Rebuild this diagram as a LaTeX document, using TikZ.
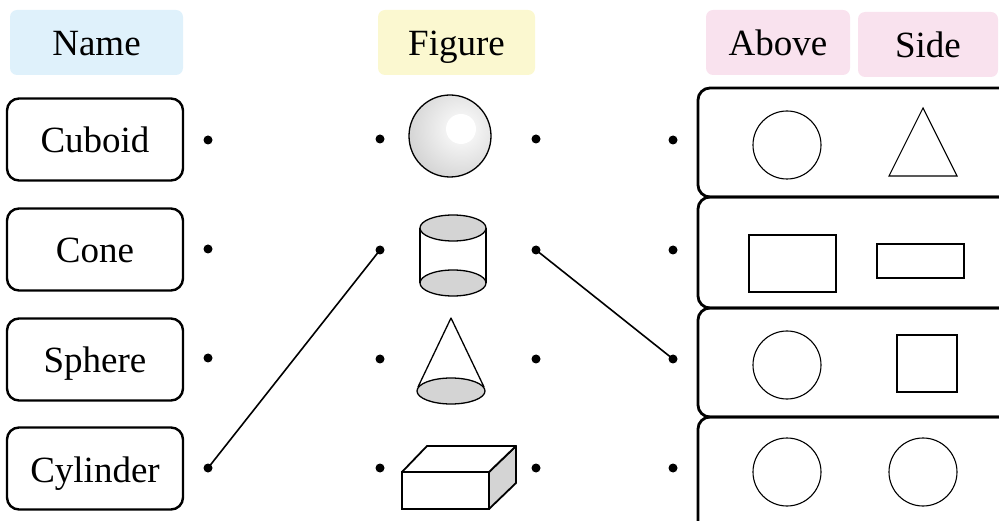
\documentclass[tikz,border=0pt]{standalone}
\usepackage{fontspec}
\setmainfont{Liberation Serif}
\definecolor{hdrblue}{HTML}{DFF1FB}
\definecolor{hdryellow}{HTML}{FBF8D0}
\definecolor{hdrpink}{HTML}{F9E2EE}
\definecolor{solidgray}{HTML}{D4D4D4}
\definecolor{ballgray}{HTML}{D2D2D2}
\begin{document}
\begin{tikzpicture}[x=1pt,y=-1pt,
  label font/.style={font=\fontsize{37}{42}\selectfont, text height=31pt, text depth=4pt},
  hdr/.style={label font, rounded corners=7pt, minimum height=65pt, inner sep=0pt},
  namebox/.style={label font, draw, line width=2.4pt, rounded corners=12pt,
    minimum width=176pt, minimum height=82pt, inner sep=0pt},
  dotn/.style={circle, fill=black, inner sep=0pt, minimum size=9pt},
  link/.style={line width=1.6pt},
  outline/.style={line width=1.1pt},
  solid/.style={line width=1.3pt, fill=solidgray},
  viewbox/.style={line width=2.8pt, rounded corners=12pt}
]
\useasboundingbox (0,0) rectangle (999,521);
\clip (0,0) rectangle (999,521);

% column headers
\node[hdr, fill=hdrblue, minimum width=173pt] (hName) at (96.5,42.5) {Name};
\node[hdr, fill=hdryellow, minimum width=157pt] (hFigure) at (456.5,42.5) {Figure};
\node[hdr, fill=hdrpink, minimum width=144pt] (hAbove) at (778,42.5) {Above};
\node[hdr, fill=hdrpink, minimum width=140pt] (hSide) at (928,44.5) {Side};

% names
\node[namebox] (nCuboid) at (95,139.5) {Cuboid};
\node[namebox] (nCone) at (95,249.5) {Cone};
\node[namebox] (nSphere) at (95,359.5) {Sphere};
\node[namebox] (nCylinder) at (95,468.5) {Cylinder};

% views from above and from the side
\draw[viewbox] (698,88) rectangle (1014,197);
\draw[viewbox] (698,197) rectangle (1014,308);
\draw[viewbox] (698,308) rectangle (1014,417);
\draw[viewbox] (698,417) rectangle (1014,535);

\draw[outline] (787,145) circle (34);
\draw[outline, line join=miter] (923,108) -- (957,176) -- (889,176) -- cycle;
\draw[outline] (749,235) rectangle (836,292);
\draw[outline] (877,244) rectangle (964,278);
\draw[outline] (787,365) circle (34);
\draw[outline] (897,335) rectangle (957,392);
\draw[outline] (787,472) circle (34);
\draw[outline] (923,472) circle (34);

% sphere with a soft highlight
\fill[ballgray] (450,136) circle (41);
\begin{scope}
  \clip (450,136) circle (41);
  \shade[inner color=white, outer color=ballgray] (461,129) circle (56);
  \fill[white] (461,129) circle (15);
\end{scope}
\draw[line width=1.3pt] (450,136) circle (41);

% cylinder
\draw[solid] (453,283) ellipse (33 and 13);
\draw[line width=1.3pt] (420,228) -- (420,283);
\draw[line width=1.3pt] (486,228) -- (486,283);
\draw[solid] (453,228) ellipse (33 and 13);

% cone
\draw[solid] (451,391) ellipse (34 and 13);
\draw[line width=1.3pt, line join=round] (418,387) -- (451,318) -- (484,387);

% cuboid
\draw[line width=1.8pt, fill=solidgray, line join=round] (489,472) -- (516,446) -- (516,483) -- (489,509) -- cycle;
\draw[line width=1.8pt, fill=white, line join=round] (402,472) -- (427,446) -- (516,446) -- (489,472) -- cycle;
\draw[line width=1.8pt, fill=white] (402,472) rectangle (489,509);

% matching dots
\node[dotn] (dN1) at (208,140) {};
\node[dotn] (dN2) at (208,249) {};
\node[dotn] (dN3) at (208,358) {};
\node[dotn] (dN4) at (208,468) {};
\node[dotn] (dFL1) at (380,139) {};
\node[dotn] (dFL2) at (380,250) {};
\node[dotn] (dFL3) at (380,359) {};
\node[dotn] (dFL4) at (380,468) {};
\node[dotn] (dFR1) at (536,139) {};
\node[dotn] (dFR2) at (536,250) {};
\node[dotn] (dFR3) at (536,359) {};
\node[dotn] (dFR4) at (536,468) {};
\node[dotn] (dV1) at (673,140) {};
\node[dotn] (dV2) at (673,250) {};
\node[dotn] (dV3) at (673,359) {};
\node[dotn] (dV4) at (673,468) {};

% drawn matches
\draw[link] (dN4.center) -- (dFL2.center);
\draw[link] (dFR2.center) -- (dV3.center);
\end{tikzpicture}
\end{document}
